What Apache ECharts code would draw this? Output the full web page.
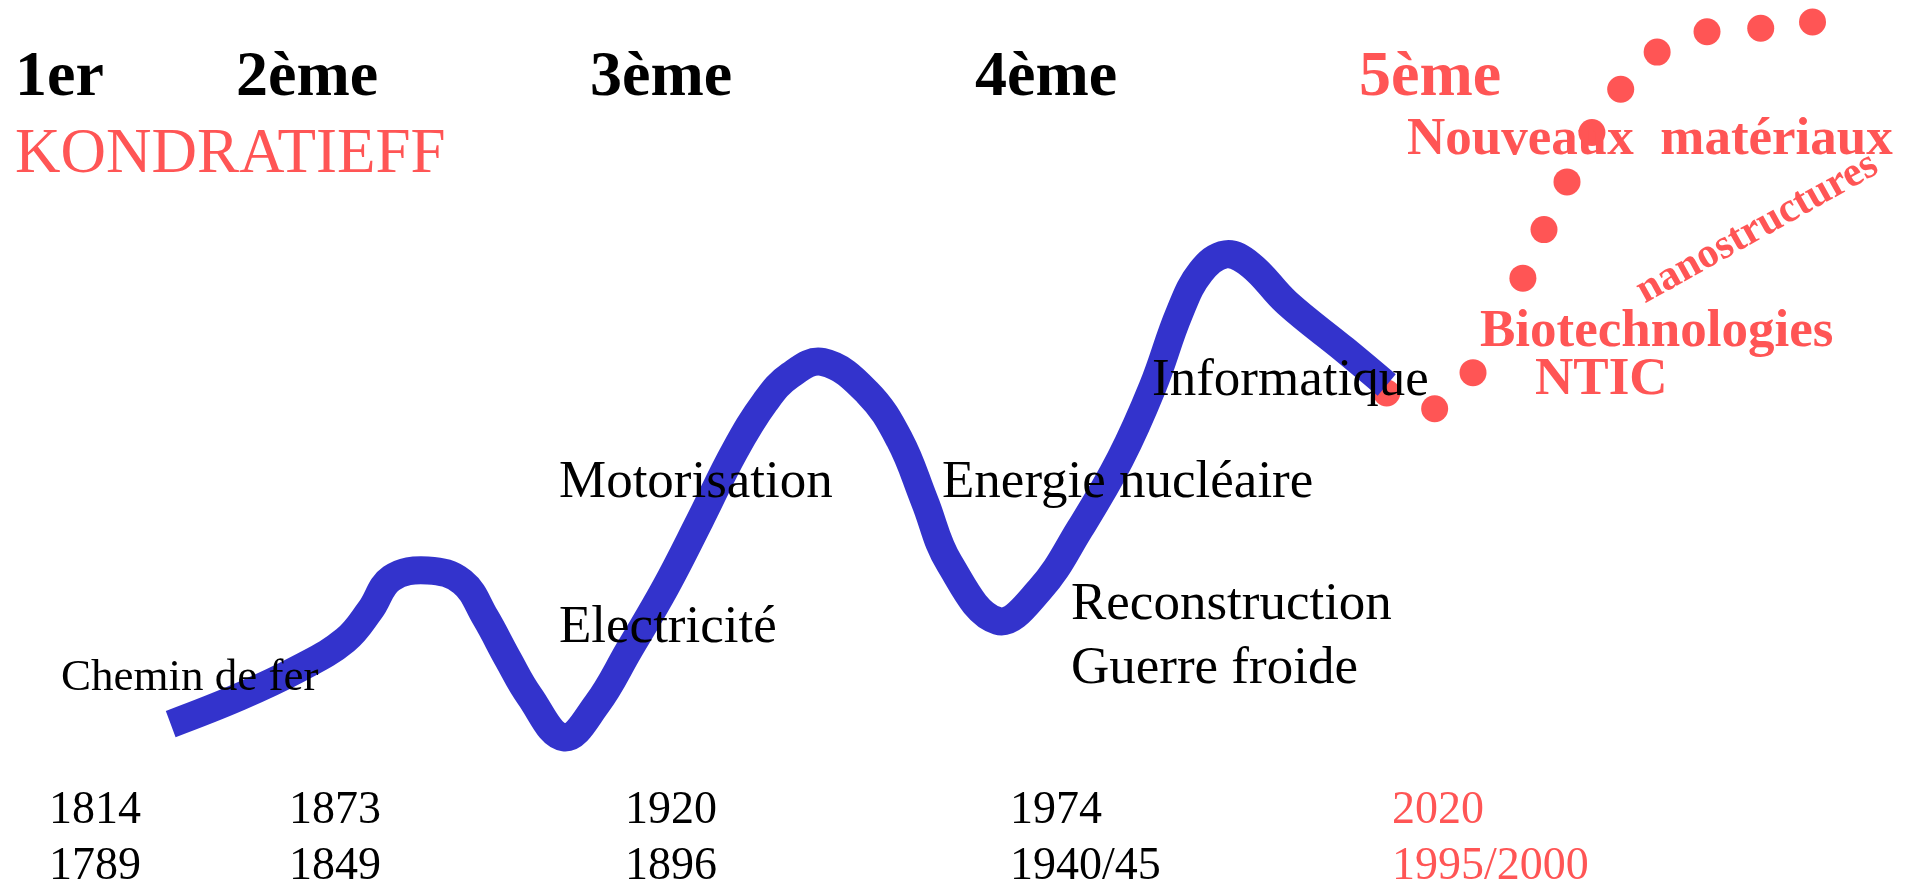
<!DOCTYPE html>
<html>
<head>
<meta charset="utf-8">
<script src="https://cdn.jsdelivr.net/npm/echarts@6/dist/echarts.min.js"></script>
<style>
  html, body { margin: 0; padding: 0; background: #fff; }
  #chart { width: 1918px; height: 883px; }
</style>
</head>
<body>
<div id="chart"></div>
<script>
// long wave, abstract units 0..100 on both axes
const waveX = [8.9, 12.5, 15.6, 18.0, 19.3, 20.4, 22.3, 24.1, 25.3, 26.5, 27.6, 29.4, 31.1, 32.8, 34.7, 36.5, 38.3, 39.9, 41.2,
  42.9, 45.2, 46.9, 48.2, 49.5, 52.0, 54.2, 56.3, 58.4, 60.1, 61.5, 62.6, 63.9, 65.2, 67.1, 70.1, 72.3];
const waveY = [18.0, 21.1, 24.3, 27.5, 30.9, 34.5, 35.4, 34.1, 30.1, 25.3, 21.2, 16.5, 20.2, 26.4, 33.5, 41.1, 48.9, 54.5, 57.5,
  59.0, 55.6, 50.2, 43.3, 36.2, 29.7, 33.2, 40.1, 48.0, 56.2, 64.6, 69.2, 71.2, 70.0, 65.7, 60.4, 56.4];

// 5th wave, dotted forecast
const dotX = [72.3, 74.8, 76.8, 79.4, 80.5, 81.7, 83.0, 84.5, 86.4, 89.0, 91.8, 94.5];
const dotY = [55.5, 53.7, 57.8, 68.5, 74.0, 79.4, 85.0, 89.9, 94.1, 96.4, 96.8, 97.5];

const waveNames = ['1er', '2ème', '3ème', '4ème', '5ème'];
const yearsEnd = ['1814', '1873', '1920', '1974', '2020'];
const yearsStart = ['1789', '1849', '1896', '1940/45', '1995/2000'];

const RED = '#ff5555';
const BLUE = '#3333cc';
const SERIF = '"Liberation Serif", "Times New Roman", serif';

const colX = [15, 236, 590, 975, 1359];
const yearX = [49, 289, 625, 1010, 1392];

// y given as alphabetic baseline, shifted to text middle
function label(text, x, baseline, size, opts) {
  opts = opts || {};
  return {
    type: 'text',
    z: 100,
    x: x,
    y: baseline,
    rotation: opts.rotation || 0,
    style: {
      text: text,
      x: 0,
      y: -0.27 * size,
      fill: opts.color || '#000',
      fontSize: size,
      fontFamily: SERIF,
      fontWeight: opts.bold ? 'bold' : 'normal',
      align: 'left',
      verticalAlign: 'middle',
      textAlign: 'left',
      textVerticalAlign: 'middle'
    }
  };
}

const graphics = [];
waveNames.forEach((n, i) => {
  graphics.push(label(n, colX[i], 96, 64, { bold: true, color: i === 4 ? RED : '#000' }));
});
graphics.push(label('KONDRATIEFF', 15, 172, 63, { color: RED }));

yearsEnd.forEach((y, i) => {
  graphics.push(label(y, yearX[i], 823, 46, { color: i === 4 ? RED : '#000' }));
});
yearsStart.forEach((y, i) => {
  graphics.push(label(y, yearX[i], 879, 46, { color: i === 4 ? RED : '#000' }));
});

graphics.push(label('Chemin de fer', 61, 690, 45));
graphics.push(label('Motorisation', 559, 497, 53));
graphics.push(label('Electricité', 559, 642, 53));
graphics.push(label('Energie nucléaire', 942, 497, 53));
graphics.push(label('Reconstruction', 1071, 619, 53));
graphics.push(label('Guerre froide', 1071, 683, 53));
graphics.push(label('Informatique', 1152, 395, 53));

graphics.push(label('Nouveaux  matériaux', 1407, 155, 53, { bold: true, color: RED }));
graphics.push(label('Biotechnologies', 1480, 347, 53, { bold: true, color: RED }));
graphics.push(label('NTIC', 1535, 395, 53, { bold: true, color: RED }));
graphics.push(label('nanostructures', 1645, 304, 42, { bold: true, color: RED, rotation: 29.2 * Math.PI / 180 }));

const chart = echarts.init(document.getElementById('chart'));
chart.setOption({
  animation: false,
  backgroundColor: '#fff',
  grid: { left: 0, right: 0, top: 0, bottom: 0 },
  xAxis: { type: 'value', min: 0, max: 100, show: false },
  yAxis: { type: 'value', min: 0, max: 100, show: false },
  series: [
    {
      type: 'scatter',
      z: 1,
      symbolSize: 27,
      itemStyle: { color: RED, opacity: 1 },
      data: dotX.map((x, i) => [x, dotY[i]])
    },
    {
      // one smooth stroke through all wave points (the line series clamps its
      // control points per segment, which leaves kinks at this thickness)
      type: 'custom',
      z: 2,
      silent: true,
      encode: { x: 0, y: 1 },
      data: waveX.map((x, i) => [x, waveY[i]]),
      renderItem: function (params, api) {
        if (params.dataIndex !== 0) return;
        const pts = waveX.map((x, i) => api.coord([x, waveY[i]]));
        return {
          type: 'polyline',
          shape: { points: pts, smooth: 0.4 },
          style: { fill: null, stroke: BLUE, lineWidth: 28, lineCap: 'butt', lineJoin: 'round' }
        };
      }
    }
  ],
  graphic: graphics
});
</script>
</body>
</html>
